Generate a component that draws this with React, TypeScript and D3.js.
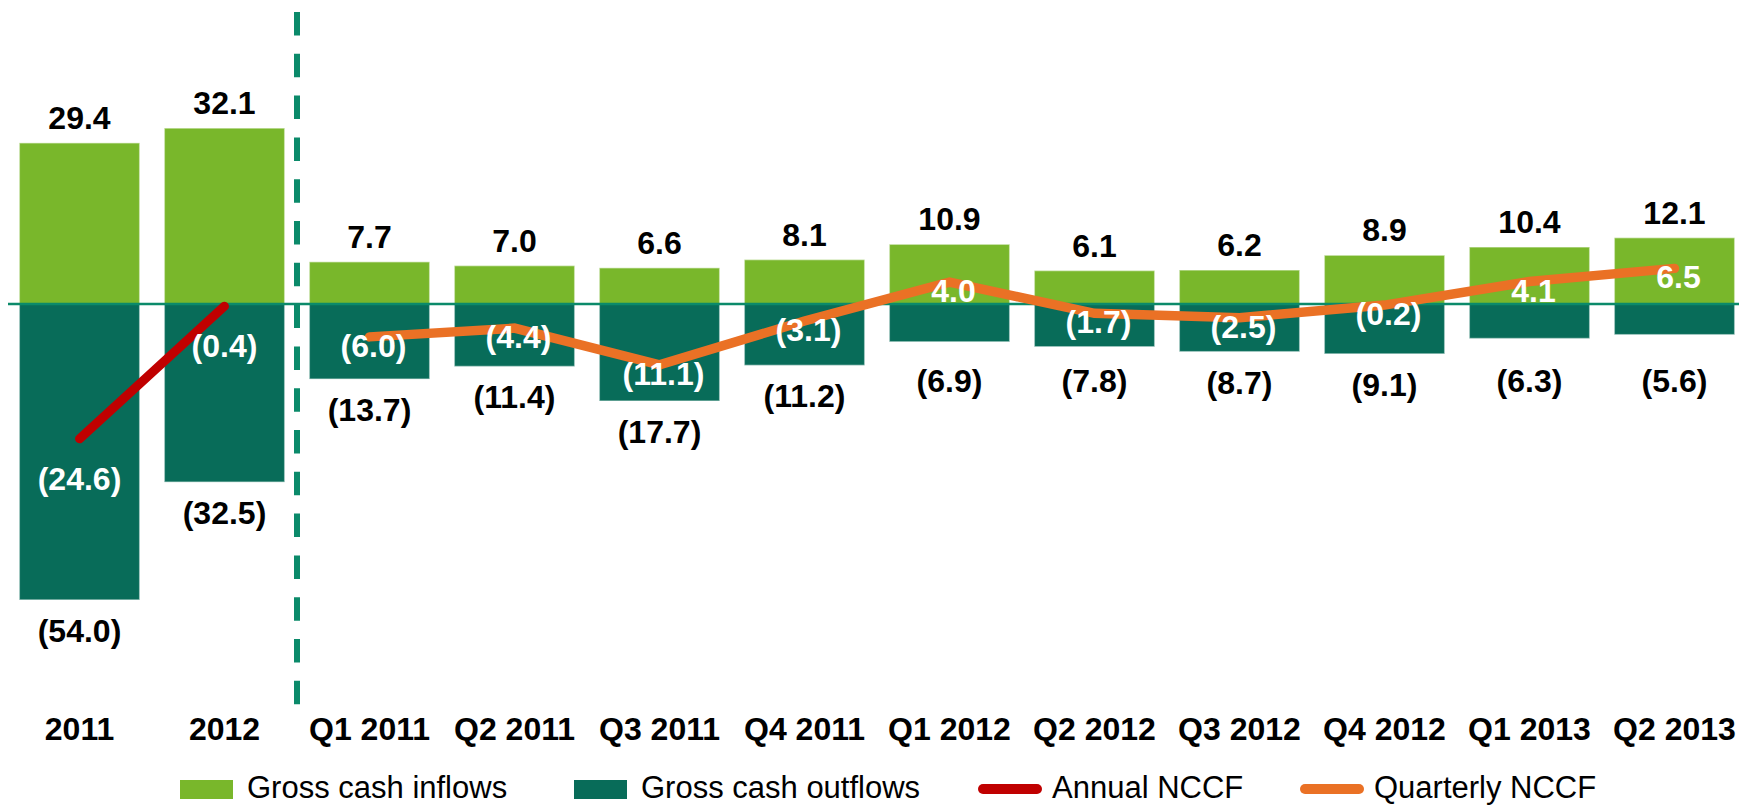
import React, { useEffect, useRef } from 'react'
import * as d3 from 'd3'

// categories: two annual totals, then ten quarters
const categories = ['2011', '2012', 'Q1 2011', 'Q2 2011', 'Q3 2011', 'Q4 2011', 'Q1 2012', 'Q2 2012', 'Q3 2012', 'Q4 2012', 'Q1 2013', 'Q2 2013']
const inflows = [29.4, 32.1, 7.7, 7.0, 6.6, 8.1, 10.9, 6.1, 6.2, 8.9, 10.4, 12.1]
const outflows = [-54.0, -32.5, -13.7, -11.4, -17.7, -11.2, -6.9, -7.8, -8.7, -9.1, -6.3, -5.6]
const annualCats = ['2011', '2012']
const annualNccf = [-24.6, -0.4]
const quarterCats = ['Q1 2011', 'Q2 2011', 'Q3 2011', 'Q4 2011', 'Q1 2012', 'Q2 2012', 'Q3 2012', 'Q4 2012', 'Q1 2013', 'Q2 2013']
const quarterNccf = [-6.0, -4.4, -11.1, -3.1, 4.0, -1.7, -2.5, -0.2, 4.1, 6.5]

const GREEN = '#79b72b'
const TEAL = '#086c59'
const RED = '#c00000'
const ORANGE = '#ea7125'
const RULE = '#0b8a6a'
const FONT = "'Liberation Sans', Arial, sans-serif"

const fmt = (v: number) => (v < 0 ? `(${Math.abs(v).toFixed(1)})` : v.toFixed(1))

export default function App() {
    const ref = useRef<SVGSVGElement>(null)

    useEffect(() => {
        const svg = d3.select(ref.current)
        svg.selectAll('*').remove()

        const width = 1739
        const zero = 304

        const x = d3.scaleBand()
            .domain(categories)
            .range([7, 1747])
            .paddingInner(0.17)
            .paddingOuter(0.085)

        const y = d3.scaleLinear()
            .domain([-60, 40])
            .range([zero + 60 * 5.48, zero - 40 * 5.48])

        const cx = (c: string) => (x(c) as number) + x.bandwidth() / 2

        // bars
        svg.append('g').selectAll('rect')
            .data(categories)
            .join('rect')
            .attr('x', d => x(d) as number)
            .attr('y', (d, i) => y(inflows[i]))
            .attr('width', x.bandwidth())
            .attr('height', (d, i) => y(0) - y(inflows[i]))
            .attr('fill', GREEN)
            .attr('stroke', 'rgba(255,255,255,0.45)')
            .attr('stroke-width', 1.5)

        svg.append('g').selectAll('rect')
            .data(categories)
            .join('rect')
            .attr('x', d => x(d) as number)
            .attr('y', y(0))
            .attr('width', x.bandwidth())
            .attr('height', (d, i) => y(outflows[i]) - y(0))
            .attr('fill', TEAL)
            .attr('stroke', 'rgba(255,255,255,0.45)')
            .attr('stroke-width', 1.5)

        // zero line
        svg.append('line')
            .attr('x1', 8).attr('x2', width)
            .attr('y1', y(0)).attr('y2', y(0))
            .attr('stroke', RULE)
            .attr('stroke-width', 2.5)

        // divider between annual and quarterly
        const divX = ((x('2012') as number) + x.bandwidth() + (x('Q1 2011') as number)) / 2
        svg.append('line')
            .attr('x1', divX).attr('x2', divX)
            .attr('y1', 12).attr('y2', 707)
            .attr('stroke', RULE)
            .attr('stroke-width', 6)
            .attr('stroke-dasharray', '23.5 18.3')

        // NCCF lines
        const line = d3.line<[string, number]>()
            .x(d => cx(d[0]))
            .y(d => y(d[1]))

        svg.append('path')
            .datum(annualCats.map((c, i) => [c, annualNccf[i]] as [string, number]))
            .attr('d', line)
            .attr('fill', 'none')
            .attr('stroke', RED)
            .attr('stroke-width', 9)
            .attr('stroke-linecap', 'round')

        svg.append('path')
            .datum(quarterCats.map((c, i) => [c, quarterNccf[i]] as [string, number]))
            .attr('d', line)
            .attr('fill', 'none')
            .attr('stroke', ORANGE)
            .attr('stroke-width', 9.5)
            .attr('stroke-linecap', 'round')
            .attr('stroke-linejoin', 'miter')

        const labels = svg.append('g')
            .attr('font-family', FONT)
            .attr('font-weight', 'bold')
            .attr('font-size', 32)
            .attr('text-anchor', 'middle')

        // inflow values
        labels.selectAll('text.in')
            .data(categories)
            .join('text')
            .attr('class', 'in')
            .attr('x', d => cx(d))
            .attr('y', (d, i) => y(inflows[i]) - 14)
            .attr('fill', '#000')
            .text((d, i) => fmt(inflows[i]))

        // outflow values
        labels.selectAll('text.out')
            .data(categories)
            .join('text')
            .attr('class', 'out')
            .attr('x', d => cx(d))
            .attr('y', (d, i) => Math.max(y(outflows[i]) + 42, zero + 88))
            .attr('fill', '#000')
            .text((d, i) => fmt(outflows[i]))

        // NCCF values
        labels.selectAll('text.ann')
            .data(annualCats)
            .join('text')
            .attr('class', 'ann')
            .attr('x', d => cx(d))
            .attr('y', (d, i) => y(annualNccf[i]) + 51)
            .attr('fill', '#fff')
            .text((d, i) => fmt(annualNccf[i]))

        labels.selectAll('text.qtr')
            .data(quarterCats)
            .join('text')
            .attr('class', 'qtr')
            .attr('x', d => cx(d) + 4)
            .attr('y', (d, i) => y(quarterNccf[i]) + 20)
            .attr('fill', '#fff')
            .text((d, i) => fmt(quarterNccf[i]))

        // category axis labels
        labels.selectAll('text.cat')
            .data(categories)
            .join('text')
            .attr('class', 'cat')
            .attr('x', d => cx(d))
            .attr('y', 740)
            .attr('fill', '#000')
            .text(d => d)

        // legend
        const legend = svg.append('g')
            .attr('font-family', FONT)
            .attr('font-size', 31)
        const items = [
            { label: 'Gross cash inflows', color: GREEN, kind: 'box', x: 180 },
            { label: 'Gross cash outflows', color: TEAL, kind: 'box', x: 574 },
            { label: 'Annual NCCF', color: RED, kind: 'line', x: 978 },
            { label: 'Quarterly NCCF', color: ORANGE, kind: 'line', x: 1300 },
        ]
        items.forEach(it => {
            const g = legend.append('g').attr('transform', `translate(${it.x},0)`)
            if (it.kind === 'box') {
                g.append('rect').attr('x', 0).attr('y', 780).attr('width', 53).attr('height', 19).attr('fill', it.color)
                g.append('text').attr('x', 67).attr('y', 798).text(it.label)
            } else {
                g.append('line').attr('x1', 5).attr('x2', 59).attr('y1', 789).attr('y2', 789)
                    .attr('stroke', it.color).attr('stroke-width', 10).attr('stroke-linecap', 'round')
                g.append('text').attr('x', 74).attr('y', 798).text(it.label)
            }
        })
    }, [])

    return (
        <svg ref={ref} width={1739} height={806}
            style={{ position: 'absolute', left: 0, top: 0, background: '#fff' }} />
    )
}
